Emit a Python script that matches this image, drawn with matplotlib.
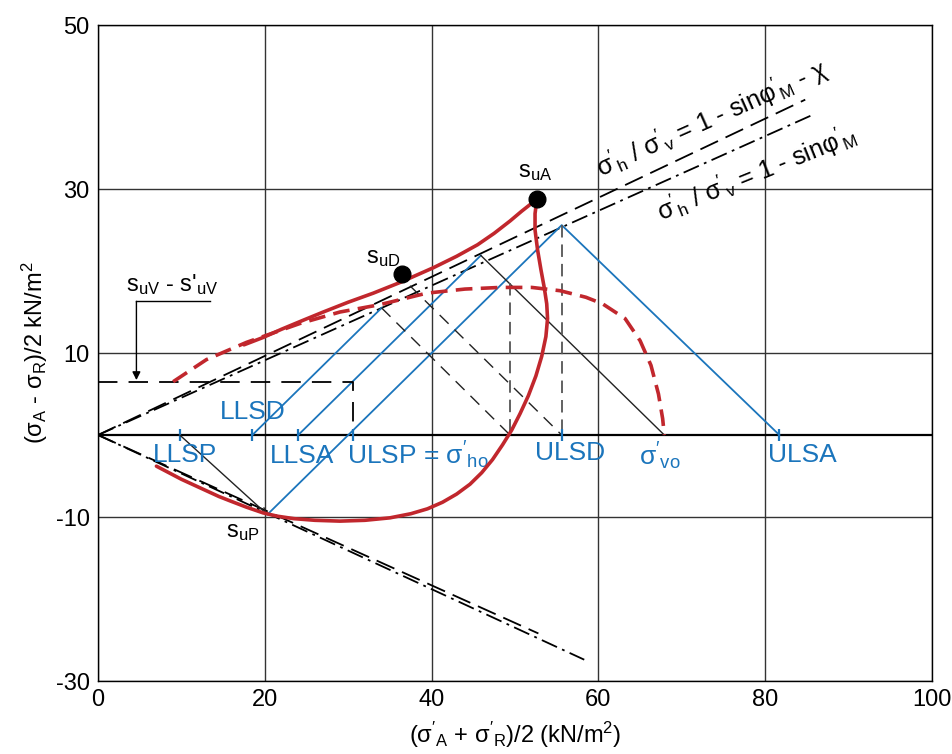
import matplotlib.pyplot as plt
import numpy as np

plt.rcParams['font.family'] = ['Liberation Sans', 'DejaVu Sans']
plt.rcParams['mathtext.fontset'] = 'custom'
plt.rcParams['mathtext.rm'] = 'Liberation Sans'
plt.rcParams['mathtext.it'] = 'Liberation Sans'
plt.rcParams['mathtext.default'] = 'regular'
plt.rcParams['lines.scale_dashes'] = False
plt.rcParams['axes.unicode_minus'] = False

BLUE = '#1b75bc'
RED = '#c1272d'

## dane (kN/m2)
# punkty charakterystyczne
s_uA = (52.6, 28.8)
s_uD = (36.5, 19.6)
s_uP = (20.3, -9.7)

# punkty na osi p'
axis_names = ['LLSP', 'LLSD', 'LLSA', 'ULSP', 'ULSD', 'ULSA']
axis_x = [9.8, 18.5, 24.0, 30.6, 55.6, 81.7]
sigma_vo = 67.9

# linie K (od początku układu)
k_chi_up = (84.8, 40.9)
k_up = (85.8, 39.1)
k_chi_down = (52.8, -24.2)
k_down = (58.3, -27.4)

# ścieżki naprężeń całkowitych (niebieskie)
blue_paths = [
    ([18.5, 34.0], [0.0, 15.5]),
    ([24.0, 45.9], [0.0, 21.9]),
    ([20.3, 55.6, 81.7], [-9.7, 25.6, 0.0]),
]

# cienkie czarne linie
thin_black = [
    ([45.9, 67.9], [21.9, 0.0]),
]
dashed_diag = [
    ([34.0, 49.4], [15.5, 0.0]),
    ([37.4, 55.6], [18.2, 0.0]),
]
dashed_vert = [
    ([49.4, 49.4], [18.5, 0.0]),
    ([55.6, 55.6], [25.6, 0.0]),
]

# s_uV - s_uV'
suv_level = 6.5
suv_right = 30.6

# krzywa czerwona ciągła
red_x = [7.0, 8.5, 10.0, 11.5, 13.0, 14.5, 16.0, 17.8, 19.8, 21.5, 23.5, 26.0,
         29.0, 32.0, 35.0, 37.5, 39.5, 41.3, 43.0, 44.6, 46.0, 47.3, 48.5, 49.6,
         50.6, 51.6, 52.5, 53.2, 53.7, 53.9, 53.8, 53.5, 53.1, 52.7, 52.4, 52.4,
         52.6,
         51.8, 50.8, 49.4, 47.5, 45.5, 43.0, 40.2, 38.2, 36.2, 33.0, 30.0,
         27.0, 24.6, 22.0, 19.8, 17.5]
red_y = [-3.8, -4.6, -5.4, -6.1, -6.8, -7.5, -8.1, -8.8, -9.5, -9.9, -10.2, -10.4,
         -10.5, -10.4, -10.1, -9.6, -9.0, -8.2, -7.2, -6.0, -4.6, -3.0, -1.2, 0.6,
         2.6, 4.8, 7.2, 9.6, 12.0, 14.2, 16.0, 18.0, 20.2, 22.6, 25.0, 27.0,
         28.6,
         28.1, 27.3, 26.1, 24.6, 23.2, 21.8, 20.4, 19.5, 18.6, 17.3, 16.2,
         15.0, 14.0, 12.9, 11.9, 11.0]

# krzywa czerwona przerywana
red_dash_x = [9.0, 13.0, 17.8, 24.2, 29.0, 33.8, 39.4, 44.0, 48.2, 52.0, 55.4,
              58.5, 60.5, 63.2, 65.0, 66.3, 67.2, 67.7, 67.9]
red_dash_y = [6.5, 9.2, 11.3, 13.6, 15.0, 15.9, 17.3, 17.8, 18.0, 18.0, 17.6,
              16.8, 16.0, 14.2, 11.5, 8.5, 5.0, 2.0, 0.0]

## wykres
fig = plt.figure(figsize=(9.52, 7.54), dpi=100)
ax = fig.add_axes([0.103, 0.0968, 0.876, 0.870])
ax.set_xlim(0, 100)
ax.set_ylim(-30, 50)
ax.set_xticks([0, 20, 40, 60, 80, 100])
ax.set_yticks([-30, -10, 10, 30, 50])
ax.tick_params(length=0, labelsize=17, pad=6)
ax.grid(color='#333333', lw=1.0)
for s in ax.spines.values():
    s.set_linewidth(1.0)
ax.axhline(0, color='black', lw=1.6, zorder=2)

# linie K
ax.plot([0, k_chi_up[0]], [0, k_chi_up[1]], color='black', lw=1.3, dashes=(14, 6))
ax.plot([0, k_up[0]], [0, k_up[1]], color='black', lw=1.3, dashes=(12, 4, 2, 4))
ax.plot([0, k_chi_down[0]], [0, k_chi_down[1]], color='black', lw=1.3, dashes=(14, 6))
ax.plot([0, k_down[0]], [0, k_down[1]], color='black', lw=1.3, dashes=(12, 4, 2, 4))

# ścieżki niebieskie
for px, py in blue_paths:
    ax.plot(px, py, color=BLUE, lw=1.3)
ax.vlines(axis_x, -0.7, 0.7, color=BLUE, lw=1.6, zorder=3)

# czarne linie pomocnicze
for px, py in thin_black:
    ax.plot(px, py, color='#222222', lw=1.0)
for px, py in dashed_diag:
    ax.plot(px, py, color='#222222', lw=1.0, dashes=(9, 6))
for px, py in dashed_vert:
    ax.plot(px, py, color='#555555', lw=1.3, dashes=(9, 5))
ax.annotate('', xy=s_uP, xytext=(axis_x[0], 0),
            arrowprops=dict(arrowstyle='->', color='#222222', lw=1.0, shrinkA=0, shrinkB=0))

# s_uV - s_uV'
ax.plot([0, suv_right, suv_right], [suv_level, suv_level, 0], color='black', lw=1.3, dashes=(14, 8))
ax.plot([4.6, 13.4], [16.3, 16.3], color='black', lw=1.0)
ax.annotate('', xy=(4.6, suv_level + 0.2), xytext=(4.6, 16.3),
            arrowprops=dict(arrowstyle='-|>', color='black', lw=1.0, mutation_scale=12,
                            shrinkA=0, shrinkB=0))
ax.text(8.9, 18.4, r"s$_{uV}$ - s$'_{uV}$", fontsize=17, ha='center', va='center')

# krzywe czerwone
ax.plot(red_dash_x, red_dash_y, color=RED, lw=2.6, dashes=(12, 6), zorder=4)
ax.plot(red_x, red_y, color=RED, lw=2.6, zorder=5, solid_capstyle='round',
        solid_joinstyle='round')

# punkty
ax.plot(*s_uA, 'o', color='black', ms=12, zorder=6)
ax.plot(*s_uD, 'o', color='black', ms=12, zorder=6)
ax.text(52.4, 32.1, r"s$_{uA}$", fontsize=17, ha='center', va='center')
ax.text(34.2, 21.6, r"s$_{uD}$", fontsize=17, ha='center', va='center')
ax.text(17.4, -11.8, r"s$_{uP}$", fontsize=17, ha='center', va='center')

# opisy na osi
fs = 19
ax.text(18.5, 2.8, 'LLSD', color=BLUE, fontsize=fs, ha='center', va='center')
ax.text(10.4, -2.4, 'LLSP', color=BLUE, fontsize=fs, ha='center', va='center')
ax.text(24.5, -2.5, 'LLSA', color=BLUE, fontsize=fs, ha='center', va='center')
ax.text(29.9, -2.5, r"ULSP = $\sigma'_{ho}$", color=BLUE, fontsize=fs, ha='left', va='center')
ax.text(56.6, -2.2, 'ULSD', color=BLUE, fontsize=fs, ha='center', va='center')
ax.text(sigma_vo - 0.5, -2.6, r"$\sigma'_{vo}$", color=BLUE, fontsize=fs, ha='center', va='center')
ax.text(84.5, -2.4, 'ULSA', color=BLUE, fontsize=fs, ha='center', va='center')

# opisy linii K
ax.text(73.6, 38.6, r"$\sigma'_h$ / $\sigma'_v$ = 1 - sin$\varphi'_M$ - $\chi$", fontsize=18,
        ha='center', va='center', rotation=24, rotation_mode='anchor')
ax.text(79.0, 31.9, r"$\sigma'_h$ / $\sigma'_v$ = 1 - sin$\varphi'_M$", fontsize=18,
        ha='center', va='center', rotation=22, rotation_mode='anchor')

ax.set_xlabel(r"$(\sigma'_A$ + $\sigma'_R)/2$ (kN/m$^2$)", fontsize=17, labelpad=6)
ax.set_ylabel(r"$(\sigma_A$ - $\sigma_R)/2$ kN/m$^2$", fontsize=17, labelpad=4)

fig.savefig('out.png', dpi=100)
